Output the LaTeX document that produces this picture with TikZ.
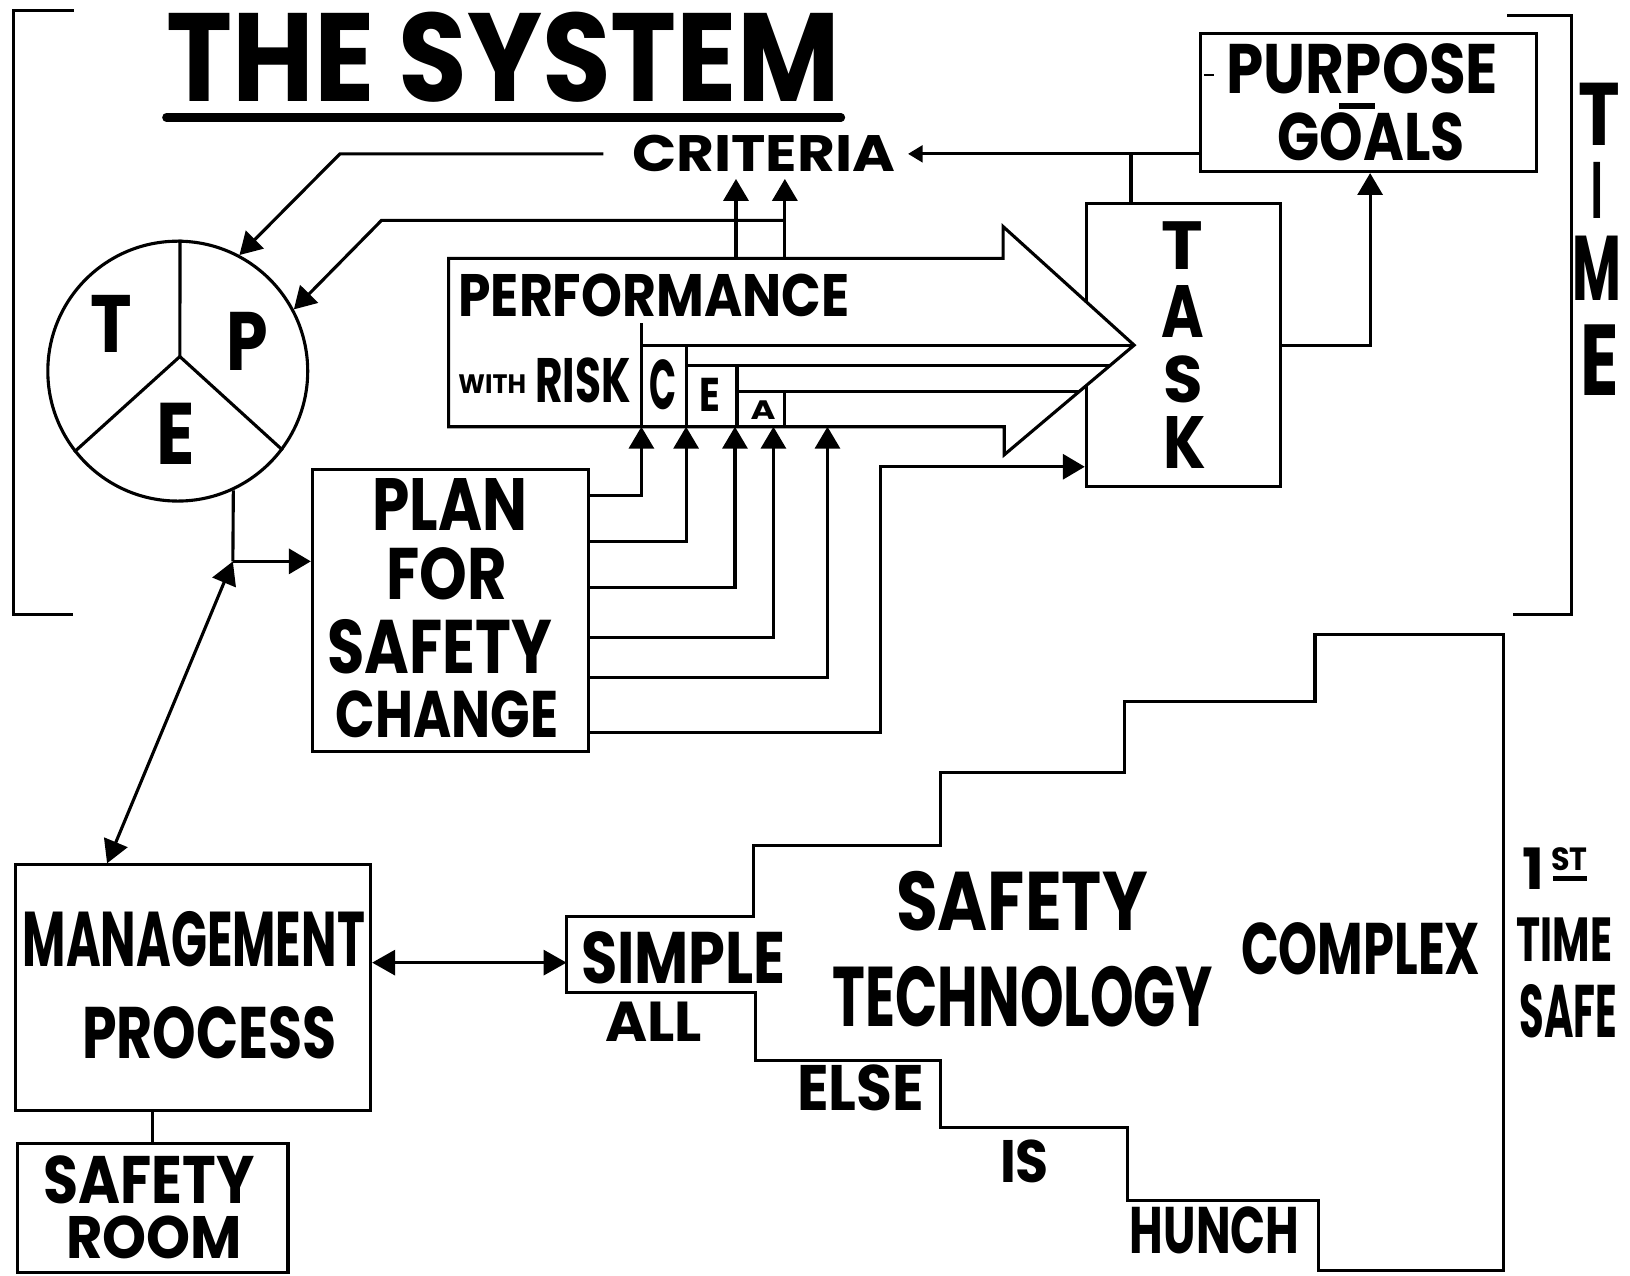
\documentclass[tikz,border=0pt]{standalone}
\usepackage{fontspec}
\setmainfont{Poppins}
\usetikzlibrary{arrows.meta}
\newlength\unitpx
\setlength\unitpx{0.5pt}
\newcommand\fitt[3]{\resizebox{#1\unitpx}{#2\unitpx}{\bfseries #3}}
\begin{document}
\begin{tikzpicture}[x=0.5pt,y=-0.5pt, line width=1.5pt, line join=miter,
  sbox/.style n args={2}{draw, inner sep=0pt, minimum width=#1*0.5pt, minimum height=#2*0.5pt},
  lbl/.style={inner sep=0pt},
  arr/.style={-{Triangle[length=10.5pt,width=12pt]}},
  sarr/.style={-{Triangle[length=7pt,width=8pt]}},
  darr/.style={{Triangle[length=11pt,width=12pt]}-{Triangle[length=11pt,width=12pt]}}]
\useasboundingbox (0,0) rectangle (1568,1227);
\fill[white] (0,0) rectangle (1568,1227);

% brackets
\draw (71,10) -- (13,10) -- (13,591) -- (70,591);
\draw (1450,15) -- (1512,15) -- (1512,591) -- (1455,591);

% title
\node[lbl] (title) at (484,55) {\fitt{648}{86}{THE SYSTEM}};
\draw[line width=4pt, line cap=round] (160,113) -- (809,113);

% boxes
\node[sbox={323}{133}] (pg) at (1316.5,98.5) {};
\node[sbox={187}{272}] (task) at (1138.5,332) {};
\node[sbox={266}{271}] (plan) at (433.5,587.5) {};
\node[sbox={342}{236}] (mgmt) at (185.5,950) {};
\node[sbox={260}{124}] (room) at (147,1162) {};
\node[draw, circle, inner sep=0pt, minimum size=250*0.5pt] (tpe) at (171,357) {};

% performance arrow
\draw[fill=white] (431.5,248.5) -- (965,248.5) -- (965,218) -- (1091,332) -- (966,437.5) -- (966,410.5) -- (431.5,410.5) -- cycle;
\draw (617,311) -- (617,410.5);
\draw (617,332) -- (1091,332);
\draw (660,332) -- (660,410.5);
\draw (660,352) -- (1067.3,352);
\draw (709,352) -- (709,410.5);
\draw (709,377) -- (1037.7,377);
\draw (755,377) -- (755,410.5);

% texts
\node[lbl, inner ysep=2.5pt] (crit) at (734.5,148) {\fitt{253}{35}{CRITERIA}};
\node[lbl] (purpose) at (1310.5,66) {\fitt{261}{48}{PURPOSE}};
\node[lbl] (goals) at (1319,132) {\fitt{180}{46}{GOALS}};
\draw[line width=3pt] (1288,102) -- (1323,102);
\draw[line width=0.8pt] (1158,72) -- (1168,72);

\node[lbl] (perf) at (629,284.5) {\fitt{376}{41}{PERFORMANCE}};
\node[lbl] (with) at (473.5,370) {\fitt{65}{18}{WITH}};
\node[lbl] (risk) at (561,365.5) {\fitt{92}{43}{RISK}};
\node[lbl] (lc) at (638,370) {\fitt{26}{48}{C}};
\node[lbl] (le) at (683,380) {\fitt{20}{32}{E}};
\node[lbl] (la) at (734,395) {\fitt{24}{18}{A}};

\node[lbl] (ct) at (107,311.5) {\fitt{40}{55}{T}};
\node[lbl] (cp) at (238,328) {\fitt{40}{56}{P}};
\node[lbl] (ce) at (169.5,417.5) {\fitt{37}{59}{E}};

\node[lbl] (k1) at (1137,236) {\fitt{40}{46}{T}};
\node[lbl] (k2) at (1137.5,300) {\fitt{41}{50}{A}};
\node[lbl] (k3) at (1138,365) {\fitt{38}{45}{S}};
\node[lbl] (k4) at (1140,426) {\fitt{41}{50}{K}};

\node[lbl] (m1) at (1538,110) {\fitt{40}{60}{T}};
\node[lbl] (m2) at (1536,183) {\fitt{11}{54}{I}};
\node[lbl] (m3) at (1536.5,258) {\fitt{47}{62}{M}};
\node[lbl] (m4) at (1538.5,346) {\fitt{37}{68}{E}};

\node[lbl] (p1) at (432.5,485) {\fitt{149}{50}{PLAN}};
\node[lbl] (p2) at (430,552) {\fitt{116}{50}{FOR}};
\node[lbl] (p3) at (423,622) {\fitt{216}{52}{SAFETY}};
\node[lbl] (p4) at (430,687.5) {\fitt{214}{45}{CHANGE}};

\node[lbl] (g1) at (186.5,903.5) {\fitt{329}{53}{MANAGEMENT}};
\node[lbl] (g2) at (201.5,993) {\fitt{245}{50}{PROCESS}};
\node[lbl] (r1) at (143.5,1135) {\fitt{203}{46}{SAFETY}};
\node[lbl] (r2) at (148.5,1190) {\fitt{169}{41}{ROOM}};

\node[lbl] (s1) at (657.5,921) {\fitt{197}{50}{SIMPLE}};
\node[lbl] (s2) at (628.5,983) {\fitt{93}{38}{ALL}};
\node[lbl] (s3) at (983,866.5) {\fitt{242}{57}{SAFETY}};
\node[lbl] (s4) at (984,959) {\fitt{366}{58}{TECHNOLOGY}};
\node[lbl] (s5) at (1309,913) {\fitt{230}{50}{COMPLEX}};
\node[lbl] (s6) at (828,1046) {\fitt{122}{44}{ELSE}};
\node[lbl] (s7) at (985.5,1117.5) {\fitt{47}{41}{IS}};
\node[lbl] (s8) at (1168.5,1183.5) {\fitt{163}{45}{HUNCH}};

\node[lbl] (f1) at (1475.5,836) {\fitt{21}{40}{1}};
\node[lbl] (f2) at (1509.5,826) {\fitt{35}{22}{ST}};
\draw[line width=2pt] (1494,845) -- (1527,845);
\node[lbl] (f3) at (1505,904) {\fitt{92}{42}{TIME}};
\node[lbl] (f4) at (1509,972.5) {\fitt{94}{51}{SAFE}};

% staircase
\draw (545,882) -- (725,882) -- (725,813) -- (905,813) -- (905,743) -- (1082,743) -- (1082,675) -- (1265,675) -- (1265,610) -- (1446,610) -- (1446,1222) -- (1268,1222) -- (1268,1155) -- (1085,1155) -- (1085,1085) -- (905,1085) -- (905,1020) -- (727,1020) -- (727,955) -- (545,955) -- cycle;
\coordinate (simpleL) at (545,926);

% TPE circle dividers
\coordinate (tj) at (173,343);
\draw (tj) -- (tpe.89);
\draw (tj) -- (tpe.218);
\draw (tj) -- (tpe.323);

% connectors
\draw[arr] (708,248.5) -- (crit.south -| 708,0);
\draw[arr] (755,248.5) -- (crit.south -| 755,0);
\draw[arr] (755,212) -- (367,212) -- (tpe.28);
\draw[arr] ([xshift=-13pt]crit.west) -- (327,148) -- (tpe.62);
\draw[sarr] (pg.west |- 0,148) -- ([xshift=5.5pt]crit.east);
\draw (1088,148) -- (task.north -| 1088,0);
\draw[arr] (task.east |- 0,332) -- (1318,332) -- (pg.south -| 1318,0);

\draw[arr] (plan.east |- 0,477) -- (617,477) -- (617,410.5);
\draw[arr] (plan.east |- 0,521) -- (660,521) -- (660,410.5);
\draw[arr] (plan.east |- 0,565) -- (707,565) -- (707,410.5);
\draw[arr] (plan.east |- 0,613) -- (744,613) -- (744,410.5);
\draw[arr] (plan.east |- 0,652) -- (796,652) -- (796,410.5);
\draw[arr] (plan.east |- 0,705) -- (847,705) -- (847,449) -- (task.west |- 0,449);

\coordinate (jn) at (224,540);
\draw (tpe.-65) -- (jn);
\draw[arr] (jn) -- (plan.west |- jn);
\draw[darr] (mgmt.north -| 103,0) -- (jn);
\draw[darr] (mgmt.east |- simpleL) -- (simpleL);
\draw (mgmt.south -| 147,0) -- (room.north -| 147,0);
\end{tikzpicture}
\end{document}
